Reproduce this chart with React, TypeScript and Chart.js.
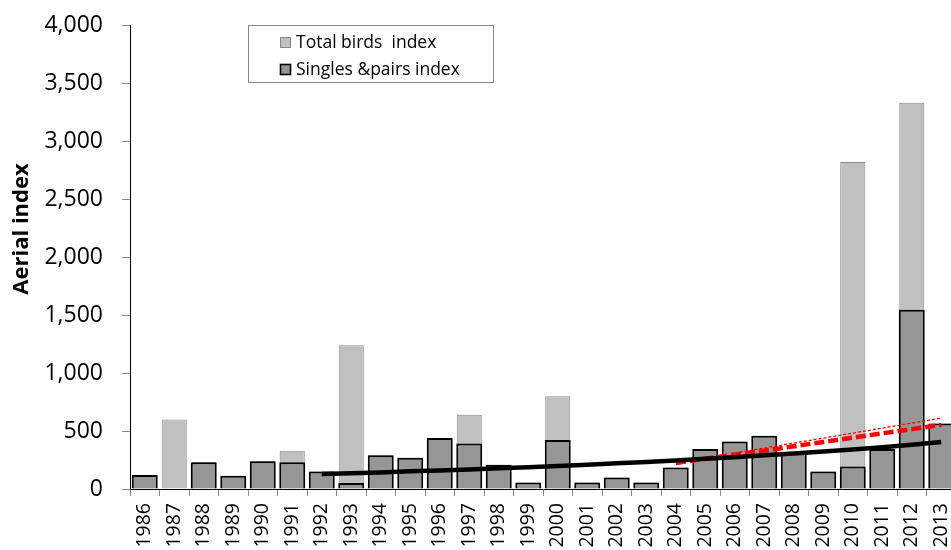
import React, { useEffect, useRef } from "react";
import { Chart, registerables } from "chart.js";

Chart.register(...registerables);

const years = [
  "1986", "1987", "1988", "1989", "1990", "1991", "1992", "1993", "1994", "1995",
  "1996", "1997", "1998", "1999", "2000", "2001", "2002", "2003", "2004", "2005",
  "2006", "2007", "2008", "2009", "2010", "2011", "2012", "2013",
];

const totalBirds = [
  120, 600, 230, 115, 240, 330, 150, 1240, 290, 270,
  440, 640, 210, 57, 800, 57, 100, 57, 185, 345,
  410, 460, 310, 150, 2820, 345, 3330, 565,
];

const singlesPairs = [
  120, null, 230, 115, 240, 230, 150, 52, 290, 270,
  440, 393, 210, 57, 422, 57, 100, 57, 185, 345,
  410, 460, 310, 150, 195, 345, 1545, 565,
];

// trend lines
const trendBlack = [
  null, null, null, null, null, null, 129, 136, 143, 152,
  160, 169, 178, 188, 198, 209, 221, 233, 246, 260,
  274, 290, 306, 323, 341, 360, 381, 405,
];

const trendRedThick = [
  null, null, null, null, null, null, null, null, null, null,
  null, null, null, null, null, null, null, null, 224, 261,
  297, 330, 368, 405, 443, 480, 516, 553,
];

const trendRedThin = [
  null, null, null, null, null, null, null, null, null, null,
  null, null, null, null, null, null, null, null, null, null,
  310, 353, 396, 439, 482, 525, 568, 611,
];

const yTicks = [0, 500, 1000, 1500, 2000, 2500, 3000, 3500, 4000];
const legendLabels = ["Total birds  index", "Singles &pairs index"];
const yTitle = "Aerial index";

const FONT = '"Open Sans", "DejaVu Sans", sans-serif';

const overlayPlugin = {
  id: "overlay",
  afterDraw(chart: any) {
    const ctx = chart.ctx as CanvasRenderingContext2D;
    ctx.save();
    // y-axis title
    ctx.translate(28, 229);
    ctx.rotate(-Math.PI / 2);
    ctx.font = `bold 22px ${FONT}`;
    ctx.fillStyle = "#000";
    ctx.textAlign = "center";
    ctx.textBaseline = "alphabetic";
    ctx.fillText(yTitle, 0, 0);
    ctx.restore();

    // legend box
    ctx.save();
    ctx.fillStyle = "#fff";
    ctx.fillRect(248, 25, 245, 58);
    ctx.strokeStyle = "#888";
    ctx.lineWidth = 1;
    ctx.strokeRect(248.5, 25.5, 245, 57);
    const rows = [
      { y: 43, fill: "#c0c0c0", stroke: "#888", lw: 1 },
      { y: 70, fill: "#969696", stroke: "#000", lw: 1.6 },
    ];
    rows.forEach((r, i) => {
      ctx.fillStyle = r.fill;
      ctx.fillRect(280.5, r.y - 5.5, 10, 10);
      ctx.strokeStyle = r.stroke;
      ctx.lineWidth = r.lw;
      ctx.strokeRect(280.5, r.y - 5.5, 10, 10);
      ctx.fillStyle = "#000";
      ctx.font = `17.5px ${FONT}`;
      ctx.textAlign = "left";
      ctx.textBaseline = "middle";
      ctx.fillText(legendLabels[i], 296, r.y);
    });
    ctx.restore();
  },
};

export default function App() {
  const ref = useRef<HTMLCanvasElement | null>(null);

  useEffect(() => {
    if (!ref.current) return;
    const chart = new Chart(ref.current, {
      type: "bar",
      data: {
        labels: years,
        datasets: [
          {
            type: "line",
            label: "trend singles",
            data: trendBlack,
            borderColor: "#000",
            borderWidth: 4.5,
            pointRadius: 0,
            fill: false,
            order: 0,
          } as any,
          {
            type: "line",
            label: "trend red thick",
            data: trendRedThick,
            borderColor: "#ff0000",
            borderWidth: 4.5,
            borderDash: [10, 4],
            pointRadius: 0,
            fill: false,
            order: 0,
          } as any,
          {
            type: "line",
            label: "trend red thin",
            data: trendRedThin,
            borderColor: "#ff0000",
            borderWidth: 1.3,
            borderDash: [3, 2],
            pointRadius: 0,
            fill: false,
            order: 0,
          } as any,
          {
            label: legendLabels[1],
            data: singlesPairs,
            backgroundColor: "#969696",
            borderColor: "#000",
            borderWidth: 2,
            grouped: false,
            barPercentage: 0.88,
            categoryPercentage: 1,
            order: 1,
          } as any,
          {
            label: legendLabels[0],
            data: totalBirds,
            backgroundColor: "#c0c0c0",
            borderColor: "#8a8a8a",
            borderWidth: 1,
            grouped: false,
            barPercentage: 0.85,
            categoryPercentage: 1,
            order: 2,
          } as any,
        ],
      },
      options: {
        animation: false,
        responsive: false,
        devicePixelRatio: 1,
        layout: { padding: { top: 25, right: 4, left: 0, bottom: 0 } },
        plugins: {
          legend: { display: false },
          tooltip: { enabled: false },
        },
        scales: {
          x: {
            offset: true,
            grid: {
              offset: true,
              drawOnChartArea: false,
              drawTicks: true,
              tickLength: 7,
              color: "#8a8a8a",
            },
            border: { display: true, color: "#000", width: 1 },
            ticks: {
              autoSkip: false,
              maxRotation: 90,
              minRotation: 90,
              padding: 7,
              color: "#000",
              font: { family: FONT, size: 19.5 },
            },
            afterFit: (s: any) => {
              s.height = 61;
              s.paddingLeft = 0;
              s.paddingRight = 0;
            },
          },
          y: {
            min: 0,
            max: 4000,
            afterBuildTicks: (s: any) => {
              s.ticks = yTicks.map((v) => ({ value: v }));
            },
            grid: {
              drawOnChartArea: false,
              drawTicks: true,
              tickLength: 8,
              color: "#8a8a8a",
            },
            border: { display: true, color: "#000", width: 1 },
            ticks: {
              padding: 19,
              color: "#000",
              font: { family: FONT, size: 23 },
              callback: (v: any) => Number(v).toLocaleString("en-US"),
            },
            afterFit: (s: any) => {
              s.width = 130;
              s.paddingTop = 0;
              s.paddingBottom = 0;
            },
          },
        },
      },
      plugins: [overlayPlugin],
    } as any);
    return () => chart.destroy();
  }, []);

  return (
    <div
      style={{
        position: "fixed",
        left: 0,
        top: 0,
        width: 951,
        height: 550,
        overflow: "hidden",
        background: "#fff",
      }}
    >
      <canvas ref={ref} width={960} height={550} style={{ width: 960, height: 550, display: "block" }} />
    </div>
  );
}
